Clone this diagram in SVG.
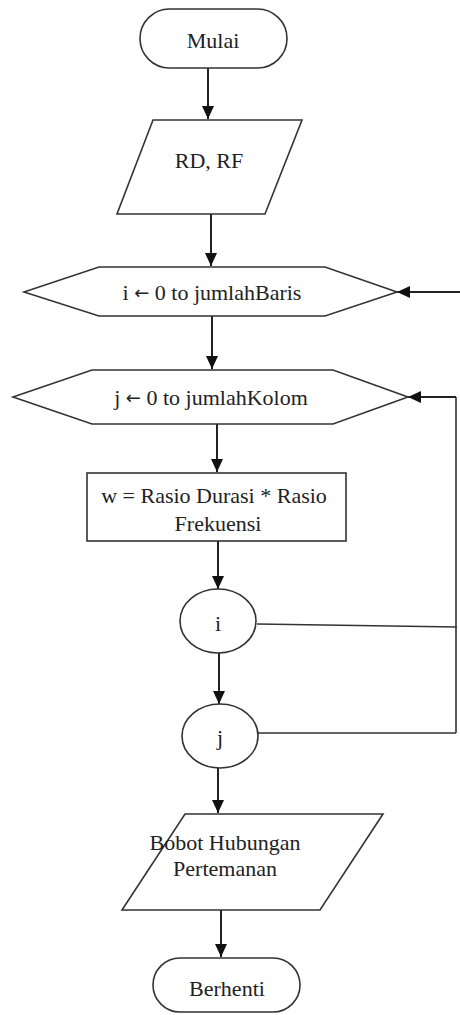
<svg xmlns="http://www.w3.org/2000/svg" width="460" height="1015" viewBox="0 0 460 1015">
<defs>
<style>
.shape{fill:#fff;stroke:#333;stroke-width:1.6}
.conn{fill:none;stroke:#222;stroke-width:2}
.thin{fill:none;stroke:#333;stroke-width:1.6}
text{font-family:"Liberation Serif","Times New Roman",serif;font-size:22px;fill:#222;text-anchor:middle;dominant-baseline:central}
.ar{font-family:"DejaVu Sans",sans-serif;font-size:18px}
</style>
<marker id="arr" markerUnits="userSpaceOnUse" markerWidth="14" markerHeight="14" viewBox="0 0 14 14" refX="13" refY="7" orient="auto">
<path d="M0,1 L13,7 L0,13 Z" fill="#111"/>
</marker>
</defs>
<rect width="460" height="1015" fill="#fff"/>
<g id="connectors">
<line class="conn" x1="208" y1="68" x2="208" y2="119" marker-end="url(#arr)"/>
<line class="conn" x1="211" y1="214" x2="211" y2="266" marker-end="url(#arr)"/>
<line class="conn" x1="212" y1="316" x2="212" y2="369" marker-end="url(#arr)"/>
<line class="conn" x1="217" y1="424" x2="217" y2="472" marker-end="url(#arr)"/>
<line class="conn" x1="218" y1="541" x2="218" y2="589" marker-end="url(#arr)"/>
<line class="conn" x1="219" y1="653" x2="219" y2="704" marker-end="url(#arr)"/>
<line class="conn" x1="218" y1="768" x2="218" y2="813" marker-end="url(#arr)"/>
<line class="conn" x1="221" y1="910" x2="221" y2="957" marker-end="url(#arr)"/>
<line class="conn" x1="460" y1="292" x2="397" y2="292" marker-end="url(#arr)"/>
<line class="thin" x1="257" y1="624" x2="457" y2="627"/>
<line class="thin" x1="258" y1="733" x2="456" y2="733"/>
<line class="thin" x1="456" y1="733" x2="456" y2="397"/>
<line class="conn" x1="456" y1="397" x2="408" y2="397" marker-end="url(#arr)"/>
</g>
<g id="mulai">
<rect class="shape" x="140" y="9" width="147" height="59" rx="29.5"/>
<text x="213" y="40">Mulai</text>
</g>
<g id="input-rd-rf">
<polygon class="shape" points="153,120 302,120 265,214 117,214"/>
<text x="209" y="160">RD, RF</text>
</g>
<g id="loop-i">
<polygon class="shape" points="24,292 99,267 325,267 397,292 325,316 99,316"/>
<text x="212" y="292">i <tspan class="ar">←</tspan> 0 to jumlahBaris</text>
</g>
<g id="loop-j">
<polygon class="shape" points="13,397 92,370 333,370 408,397 333,424 92,424"/>
<text x="211" y="397">j <tspan class="ar">←</tspan> 0 to jumlahKolom</text>
</g>
<g id="process-w">
<rect class="shape" x="87" y="473" width="259" height="68"/>
<text x="214" y="495">w = Rasio Durasi * Rasio</text>
<text x="218" y="523">Frekuensi</text>
</g>
<g id="end-i">
<ellipse class="shape" cx="218" cy="621" rx="38" ry="32"/>
<text x="218" y="623">i</text>
</g>
<g id="end-j">
<ellipse class="shape" cx="220" cy="736" rx="38" ry="32"/>
<text x="220" y="737">j</text>
</g>
<g id="output-bobot">
<polygon class="shape" points="185,814 383,814 320,910 122,910"/>
<text x="225" y="842">Bobot Hubungan</text>
<text x="225" y="868">Pertemanan</text>
</g>
<g id="berhenti">
<rect class="shape" x="153" y="958" width="147" height="54" rx="27"/>
<text x="227" y="988">Berhenti</text>
</g>
</svg>
